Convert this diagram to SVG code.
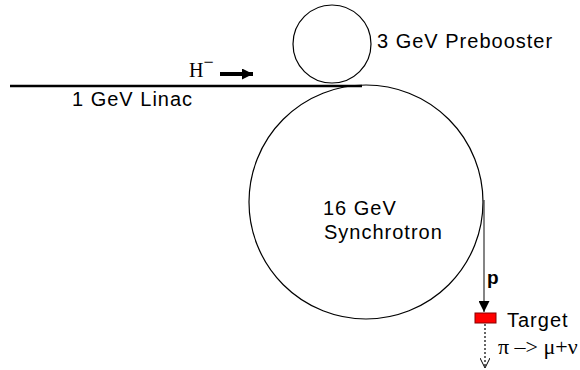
<svg xmlns="http://www.w3.org/2000/svg" width="580" height="370" viewBox="0 0 580 370">
<defs>
<style>
.lbl{font-family:"Liberation Sans",Arial,sans-serif;font-size:20px;letter-spacing:1px;fill:#000}
.ser{font-family:"Liberation Serif","Times New Roman",serif;font-size:20px;fill:#000}
.ring{fill:none;stroke:#000;stroke-width:1.2}
</style>
<marker id="solidHead" viewBox="0 0 10 10" refX="10" refY="5" markerWidth="11" markerHeight="11" markerUnits="userSpaceOnUse" orient="auto">
<path d="M0,0 L10,5 L0,10 Z" fill="#000"/>
</marker>
<marker id="openHead" viewBox="0 0 10 10" refX="10" refY="5" markerWidth="11" markerHeight="10" markerUnits="userSpaceOnUse" orient="auto">
<path d="M0,0 L10,5 L0,10" fill="none" stroke="#000" stroke-width="1"/>
</marker>
</defs>
<rect width="580" height="370" fill="#fff"/>
<g id="synchrotron">
<circle class="ring" cx="366" cy="202" r="117"/>
<text class="lbl" x="323" y="215">16 GeV</text>
<text class="lbl" x="324" y="239">Synchrotron</text>
</g>
<g id="prebooster">
<circle class="ring" cx="332" cy="44" r="39"/>
<text class="lbl" x="377" y="48">3 GeV Prebooster</text>
</g>
<g id="linac">
<line x1="10" y1="86" x2="362" y2="86" stroke="#000" stroke-width="2.5"/>
<text class="lbl" x="72" y="106">1 GeV Linac</text>
<text class="ser" x="189" y="77">H<tspan dy="-9" font-size="18">−</tspan></text>
</g>
<g id="target">
<rect x="475" y="313" width="21" height="10" fill="#f00" stroke="#800" stroke-width="1"/>
<text class="lbl" x="507" y="327">Target</text>
<text class="ser" x="498" y="354" style="font-size:22px">π –&gt; μ+ν</text>
</g>
<g id="connectors">
<line x1="220" y1="74" x2="253" y2="74" stroke="#000" stroke-width="4" marker-end="url(#solidHead)"/>
<line x1="484" y1="200" x2="484" y2="312" stroke="#333" stroke-width="1.2" marker-end="url(#solidHead)"/>
<text x="487" y="284" style="font-family:'Liberation Sans',Arial,sans-serif;font-size:19px;font-weight:bold">p</text>
<line x1="485" y1="324" x2="485" y2="368" stroke="#000" stroke-width="1.2" stroke-dasharray="2,2" marker-end="url(#openHead)"/>
</g>
</svg>
